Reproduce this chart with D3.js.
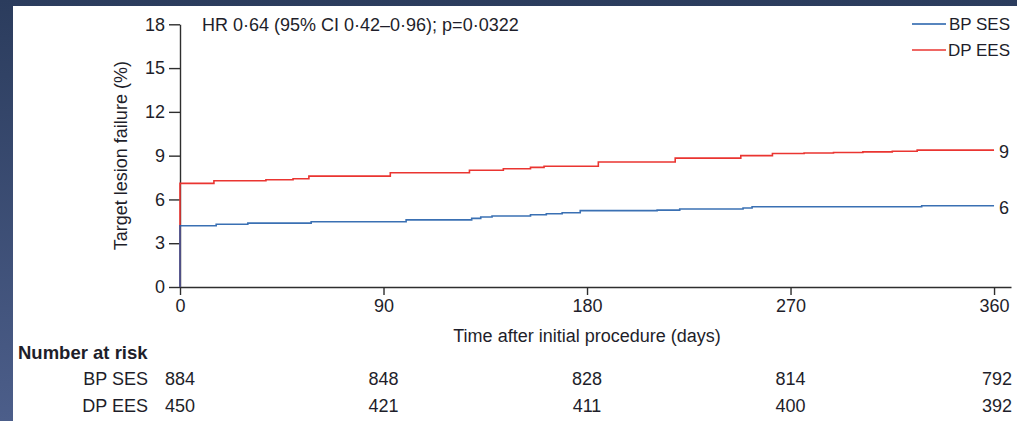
<!DOCTYPE html>
<html>
<head>
    <meta charset="utf-8" />
    <title>Target lesion failure</title>
    <script src="https://d3js.org/d3.v7.min.js"></script>
    <style>
        html, body {
            margin: 0;
            padding: 0;
            background-color: #fff;
        }
        svg text {
            font-family: 'Liberation Sans', Arial, sans-serif;
            fill: #1e1e2a;
        }
        .axis path, .axis line {
            stroke: #2e2e2e;
            stroke-width: 1.4px;
        }
        .axis text {
            font-size: 18px;
        }
    </style>
</head>
<body>
    <div class="canvas"></div>
    <script>
        // series
        var seriesNames = ["BP SES", "DP EES"];
        var seriesColors = ["#1f5ca8", "#ea3531"];
        var endLabels = ["6", "9"];

        // step curves (day, %)
        var bpDays   = [0, 0, 16, 30, 58, 100, 129, 133, 138, 155, 162, 169, 177, 211, 221, 249, 253, 328, 360];
        var bpValues = [0, 4.2, 4.3, 4.38, 4.47, 4.6, 4.7, 4.8, 4.87, 4.95, 5.02, 5.09, 5.23, 5.27, 5.34, 5.41, 5.5, 5.57, 5.57];
        var dpDays   = [0, 0, 15, 38, 50, 57, 93, 128, 143, 155, 161, 185, 219, 248, 262, 276, 289, 302, 315, 326, 360];
        var dpValues = [0, 7.1, 7.28, 7.35, 7.42, 7.6, 7.83, 8.0, 8.1, 8.2, 8.27, 8.56, 8.83, 9.0, 9.15, 9.18, 9.22, 9.26, 9.3, 9.38, 9.38];

        // axes
        var xTicks = [0, 90, 180, 270, 360];
        var yTicks = [0, 3, 6, 9, 12, 15, 18];

        // number at risk
        var riskDays = [0, 90, 180, 270, 360];
        var bpRisk = [884, 848, 828, 814, 792];
        var dpRisk = [450, 421, 411, 400, 392];

        var hrText = "HR 0·64 (95% CI 0·42–0·96); p=0·0322";
        var xTitle = "Time after initial procedure (days)";
        var yTitle = "Target lesion failure (%)";

        var width = 1017;
        var height = 421;

        var svg = d3.select(".canvas")
            .append("svg")
            .attr("width", width)
            .attr("height", height)
            .style("display", "block");

        // slide frame: dark gradient strip on the left and top
        var grad = svg.append("defs")
            .append("linearGradient")
            .attr("id", "frame")
            .attr("x1", 0).attr("y1", 0)
            .attr("x2", 0).attr("y2", 1);
        grad.append("stop").attr("offset", "0%").attr("stop-color", "#2b3c5d");
        grad.append("stop").attr("offset", "100%").attr("stop-color", "#4c5e8a");

        svg.append("rect")
            .attr("width", width)
            .attr("height", height)
            .attr("fill", "url(#frame)");
        svg.append("rect")
            .attr("x", 13)
            .attr("y", 6)
            .attr("width", width - 13)
            .attr("height", height - 6)
            .attr("fill", "#fff");

        var x = d3.scaleLinear().domain([0, 367.5]).range([180, 1011]);
        var y = d3.scaleLinear().domain([0, 18]).range([287, 24.3]);

        svg.append("g")
            .attr("class", "axis")
            .attr("transform", "translate(0," + y(0) + ")")
            .call(d3.axisBottom(x).tickValues(xTicks).tickSizeInner(8).tickSizeOuter(0).tickPadding(4));

        svg.append("g")
            .attr("class", "axis")
            .attr("transform", "translate(" + x(0) + ",0)")
            .call(d3.axisLeft(y).tickValues(yTicks).tickSizeInner(11).tickSizeOuter(0).tickPadding(4));

        svg.selectAll(".axis text").style("fill", "#1e1e2a");

        // axis titles
        svg.append("text")
            .attr("x", x(180))
            .attr("y", 342)
            .attr("text-anchor", "middle")
            .style("font-size", "18px")
            .text(xTitle);

        svg.append("text")
            .attr("transform", "translate(127," + (y(9)) + ") rotate(-90)")
            .attr("text-anchor", "middle")
            .style("font-size", "18px")
            .text(yTitle);

        svg.append("text")
            .attr("x", 202)
            .attr("y", 25)
            .attr("dy", "0.35em")
            .style("font-size", "18px")
            .text(hrText);

        // curves
        var line = d3.line()
            .x(function(d) { return x(d[0]); })
            .y(function(d) { return y(d[1]); })
            .curve(d3.curveStepAfter);

        var curves = [
            d3.zip(bpDays, bpValues),
            d3.zip(dpDays, dpValues)
        ];

        // red underneath, blue on top so the shared start shows purple
        [1, 0].forEach(function(i) {
            svg.append("path")
                .datum(curves[i])
                .attr("d", line)
                .attr("fill", "none")
                .attr("stroke", seriesColors[i])
                .attr("stroke-width", 1.6)
                .attr("stroke-opacity", i === 0 ? 0.88 : 1);

            var last = curves[i][curves[i].length - 1];
            svg.append("text")
                .attr("x", x(last[0]) + 5)
                .attr("y", y(last[1]) + 2)
                .attr("dy", "0.35em")
                .style("font-size", "18px")
                .text(endLabels[i]);
        });

        // legend
        var legend = svg.append("g");
        seriesNames.forEach(function(name, i) {
            var ly = 24 + i * 26;
            legend.append("line")
                .attr("x1", 912).attr("x2", 946)
                .attr("y1", ly).attr("y2", ly)
                .attr("stroke", seriesColors[i])
                .attr("stroke-width", 1.6);
            legend.append("text")
                .attr("x", 1010)
                .attr("y", ly)
                .attr("dy", "0.35em")
                .attr("text-anchor", "end")
                .style("font-size", "17px")
                .text(name);
        });

        // number at risk table
        svg.append("text")
            .attr("x", 18)
            .attr("y", 359)
            .style("font-size", "18.5px")
            .style("font-weight", "bold")
            .text("Number at risk");

        var riskRows = [bpRisk, dpRisk];
        riskRows.forEach(function(row, i) {
            var ry = 385 + i * 27;
            svg.append("text")
                .attr("x", 148)
                .attr("y", ry)
                .attr("text-anchor", "end")
                .style("font-size", "18px")
                .text(seriesNames[i]);

            svg.selectAll(null)
                .data(row)
                .enter()
                .append("text")
                .attr("x", function(d, j) { return x(riskDays[j]); })
                .attr("y", ry)
                .attr("text-anchor", function(d, j) { return j === row.length - 1 ? "end" : "middle"; })
                .attr("dx", function(d, j) { return j === row.length - 1 ? 18 : 0; })
                .style("font-size", "18px")
                .text(function(d) { return d; });
        });
    </script>
</body>
</html>
